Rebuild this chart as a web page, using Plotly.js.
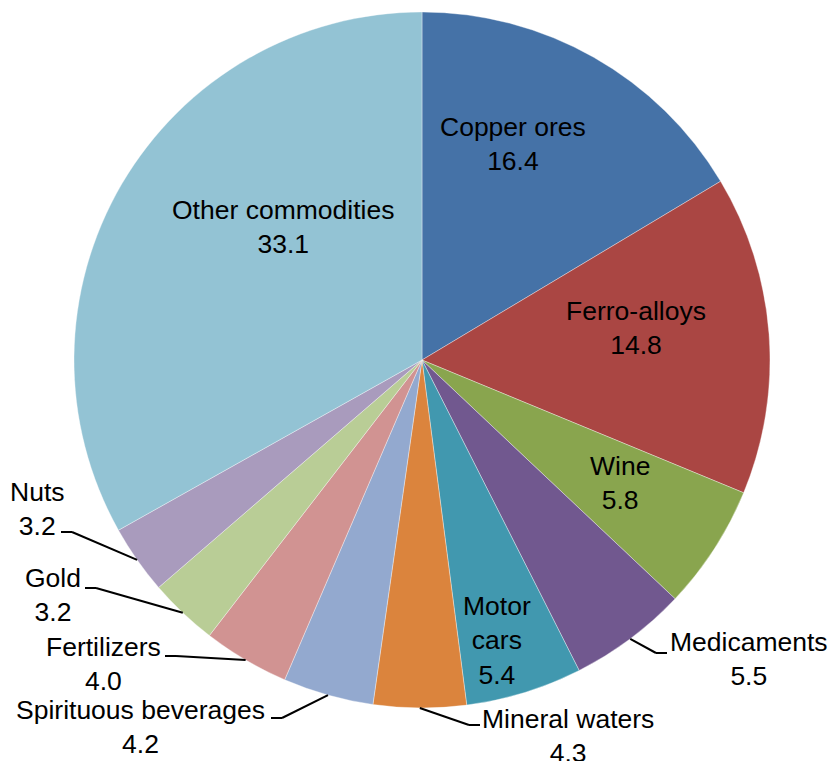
<!DOCTYPE html>
<html>
<head>
<meta charset="utf-8">
<script src="https://cdn.plot.ly/plotly-3.0.1.min.js"></script>
<style>html,body{margin:0;padding:0;background:#fff;}#chart{width:833px;height:761px;}</style>
</head>
<body>
<div id="chart"></div>
<script>
// ---- data ----
const categories = ["Copper ores", "Ferro-alloys", "Wine", "Medicaments", "Motor cars",
  "Mineral waters", "Spirituous beverages", "Fertilizers", "Gold", "Nuts", "Other commodities"];
const values = [16.4, 14.8, 5.8, 5.5, 5.4, 4.3, 4.2, 4.0, 3.2, 3.2, 33.1];
const labelTexts = ["Copper ores", "Ferro-alloys", "Wine", "Medicaments", "Motor<br>cars",
  "Mineral waters", "Spirituous beverages", "Fertilizers", "Gold", "Nuts", "Other commodities"];
const colors = ["#4572A7", "#AA4643", "#89A54E", "#71588F", "#4198AF",
  "#DB843D", "#93A9CF", "#D19392", "#B9CD96", "#A99BBD", "#93C3D4"];

// ---- layout geometry ----
const FIG_W = 833, FIG_H = 761;
const M = {l: 74, r: 63, t: 12, b: 53};
const PW = FIG_W - M.l - M.r, PH = FIG_H - M.t - M.b;
const CX = M.l + PW / 2, CY = M.t + PH / 2, R = Math.min(PW, PH) / 2;
const px2x = p => (p - M.l) / PW;
const py2y = p => (FIG_H - M.b - p) / PH;

// label placement (pixel block centres); outside labels have a leader connection point
const labelPlace = {
  "Copper ores": {x: 513, y: 144},
  "Ferro-alloys": {x: 636, y: 328},
  "Wine": {x: 620, y: 483},
  "Medicaments": {x: 749, y: 659, cx: 667, cy: 653, dir: 1},
  "Motor cars": {x: 497, y: 640},
  "Mineral waters": {x: 568, y: 736, cx: 480, cy: 725, dir: 1},
  "Spirituous beverages": {x: 140, y: 727, cx: 271, cy: 718, dir: -1},
  "Fertilizers": {x: 103, y: 664, cx: 165, cy: 656, dir: -1},
  "Gold": {x: 53, y: 595, cx: 85, cy: 588, dir: -1},
  "Nuts": {x: 37, y: 509, cx: 61, cy: 532, dir: -1},
  "Other commodities": {x: 283, y: 227}
};

const total = values.reduce((a, b) => a + b, 0);
const annotations = [], shapes = [];
let cum = 0;
const font = {family: "Liberation Sans, Arial, sans-serif", size: 26.5, color: "#000"};
values.forEach((v, i) => {
  const mid = (cum + v / 2) / total * 2 * Math.PI;
  cum += v;
  const name = categories[i];
  const p = labelPlace[name];
  annotations.push({
    xref: "paper", yref: "paper", x: px2x(p.x), y: py2y(p.y),
    xanchor: "center", yanchor: "middle", align: "center",
    text: labelTexts[i] + "<br>" + v.toFixed(1), showarrow: false, font: font
  });
  if (p.cx !== undefined) {
    const ex = CX + R * Math.sin(mid), ey = CY - R * Math.cos(mid);
    const elx = p.cx - p.dir * 11;
    const ln = {color: "#000", width: 2};
    shapes.push({type: "line", xref: "paper", yref: "paper",
      x0: px2x(ex), y0: py2y(ey), x1: px2x(elx), y1: py2y(p.cy), line: ln});
    shapes.push({type: "line", xref: "paper", yref: "paper",
      x0: px2x(elx), y0: py2y(p.cy), x1: px2x(p.cx), y1: py2y(p.cy), line: ln});
  }
});

const trace = {
  type: "pie", labels: categories, values: values, sort: false,
  direction: "clockwise", rotation: 0, textinfo: "none", hoverinfo: "label+value",
  marker: {colors: colors, line: {color: "rgba(255,255,255,0.6)", width: 0.6}},
  domain: {x: [0, 1], y: [0, 1]}, showlegend: false
};

Plotly.newPlot("chart", [trace], {
  width: FIG_W, height: FIG_H, margin: M,
  paper_bgcolor: "#fff", plot_bgcolor: "#fff",
  showlegend: false, annotations: annotations, shapes: shapes
}, {displayModeBar: false, staticPlot: true});
</script>
</body>
</html>
